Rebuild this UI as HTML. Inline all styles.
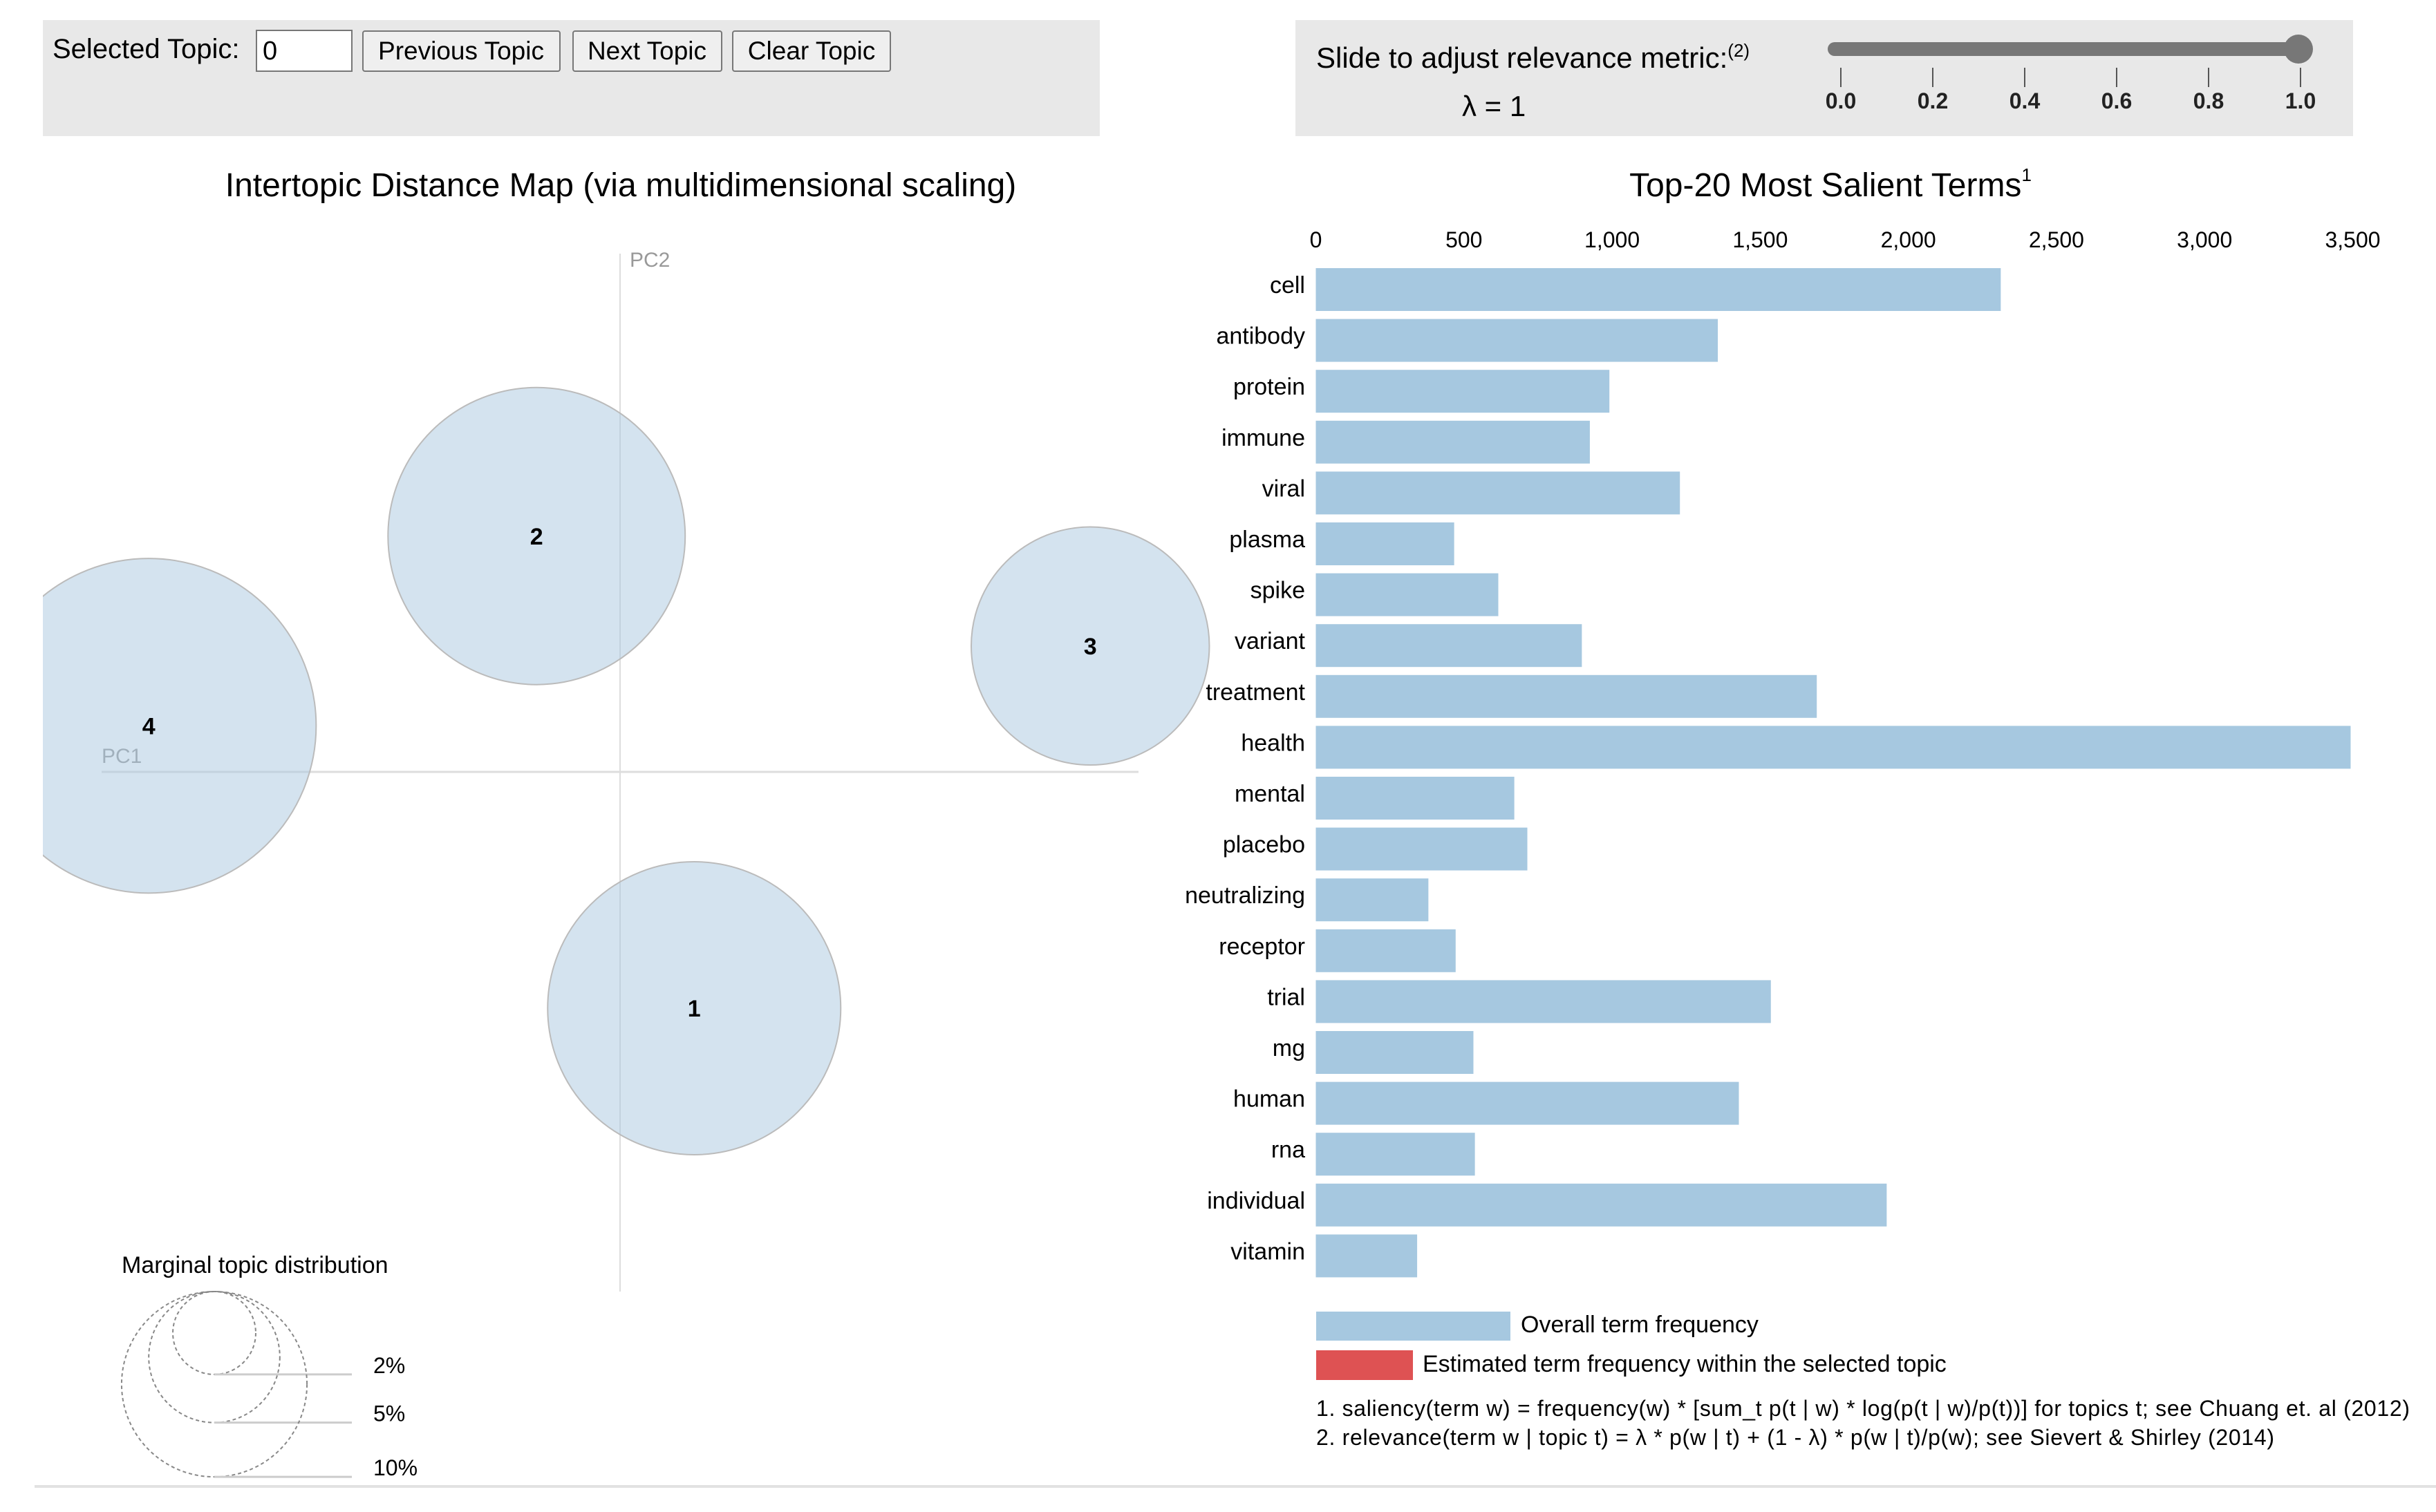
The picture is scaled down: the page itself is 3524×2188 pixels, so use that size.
<!DOCTYPE html>
<html><head><meta charset="utf-8"><style>
html,body{margin:0;padding:0;background:#fff;}
svg{display:block;font-family:"Liberation Sans",sans-serif;}
</style></head><body>
<svg id="root" width="3524" height="2188" viewBox="0 0 3524 2188" xmlns="http://www.w3.org/2000/svg">
<defs><clipPath id="mapclip"><rect x="62" y="330" width="1700" height="1800"/></clipPath></defs>
<g>
<rect x="62" y="29" width="1529" height="168" fill="#e8e8e8"/>
<text x="76" y="84" font-size="40" fill="#000">Selected Topic:</text>
<g><rect x="371" y="44" width="138" height="59" fill="#fff" stroke="#777" stroke-width="2"/><text x="380" y="86" font-size="38">0</text></g>
<g><rect x="525" y="45" width="285" height="58" fill="#efefef" stroke="#777" stroke-width="2" rx="3"/><text x="667" y="86" font-size="37" text-anchor="middle">Previous Topic</text></g>
<g><rect x="829" y="45" width="215" height="58" fill="#efefef" stroke="#777" stroke-width="2" rx="3"/><text x="936" y="86" font-size="37" text-anchor="middle">Next Topic</text></g>
<g><rect x="1060" y="45" width="228" height="58" fill="#efefef" stroke="#777" stroke-width="2" rx="3"/><text x="1174" y="86" font-size="37" text-anchor="middle">Clear Topic</text></g>
</g>
<g>
<rect x="1874" y="29" width="1530" height="168" fill="#e8e8e8"/>
<text x="1904" y="98" font-size="42">Slide to adjust relevance metric:<tspan font-size="26" dy="-16">(2)</tspan></text>
<text x="2115" y="168" font-size="42">λ = 1</text>
<g>
<rect x="2644" y="61" width="698" height="20" rx="10" fill="#777"/>
<circle cx="3325" cy="71" r="21" fill="#777"/>
</g>
<g id="sliderTicks"></g>
</g>
<text x="898" y="284" font-size="48" text-anchor="middle">Intertopic Distance Map (via multidimensional scaling)</text>
<g id="map">
<line x1="897" y1="367" x2="897" y2="1869" stroke="#ddd" stroke-width="2"/>
<line x1="147" y1="1117" x2="1647" y2="1117" stroke="#ddd" stroke-width="3"/>
<text x="911" y="386" font-size="30" fill="#999">PC2</text>
<text x="147" y="1104" font-size="30" fill="#999">PC1</text>
<g id="circles" clip-path="url(#mapclip)"></g>
</g>
<g id="marginal">
<text x="176" y="1842" font-size="34">Marginal topic distribution</text>
</g>
<line x1="50" y1="2151" x2="3524" y2="2151" stroke="#e2e2e2" stroke-width="4"/>
<text x="2648" y="284" font-size="48" text-anchor="middle">Top-20 Most Salient Terms<tspan font-size="26" dy="-22">1</tspan></text>
<g id="bars"></g>
<g>
<rect x="1904" y="1898" width="281" height="42" fill="#a6c8e0"/>
<text x="2200" y="1928" font-size="34">Overall term frequency</text>
<rect x="1904" y="1954" width="140" height="43" fill="#de5253"/>
<text x="2058" y="1985" font-size="34">Estimated term frequency within the selected topic</text>
<text x="1904" y="2049" font-size="32" textLength="1582">1. saliency(term w) = frequency(w) * [sum_t p(t | w) * log(p(t | w)/p(t))] for topics t; see Chuang et. al (2012)</text>
<text x="1904" y="2091" font-size="32" textLength="1386">2. relevance(term w | topic t) = λ * p(w | t) + (1 - λ) * p(w | t)/p(w); see Sievert &amp; Shirley (2014)</text>
</g>
</svg>
<script>
const terms=["cell","antibody","protein","immune","viral","plasma","spike","variant","treatment","health","mental","placebo","neutralizing","receptor","trial","mg","human","rna","individual","vitamin"];
const freqs=[2312,1357,991,925,1229,467,616,898,1691,3493,670,714,380,472,1536,532,1428,537,1927,342];
const xTicks=[0,500,1000,1500,2000,2500,3000,3500];
const xTickLabels=["0","500","1,000","1,500","2,000","2,500","3,000","3,500"];
const topicIds=[1,2,3,4];
const topicPC1=[0.143,-0.161,0.907,-0.909];
const topicPC2=[-0.456,0.455,0.243,0.089];
const topicShare=[0.25,0.257,0.165,0.326];
const legendShares=[0.02,0.05,0.10];
const legendLabels=["2%","5%","10%"];
const sliderTicks=[0,0.2,0.4,0.6,0.8,1.0];
const sliderLabels=["0.0","0.2","0.4","0.6","0.8","1.0"];

const NS="http://www.w3.org/2000/svg";
function mk(tag,attrs,parent){const e=document.createElementNS(NS,tag);for(const k in attrs)e.setAttribute(k,attrs[k]);parent.appendChild(e);return e;}
const xS=v=>1903.5+v*(1500/3500);
const rowY=i=>388+i*73.6;
const mapX=v=>897+v*750, mapY=v=>1117-v*750;
const rS=p=>Math.sqrt(p)*424;
const slX=v=>2663+v*665;

const bars=document.getElementById('bars');
xTicks.forEach((t,i)=>{
  const tx=mk('text',{x:xS(t),y:358,'font-size':32,'text-anchor':'middle'},bars);
  tx.textContent=xTickLabels[i];
  
  
});
terms.forEach((t,i)=>{
  const r=mk('rect',{x:xS(0),y:rowY(i),width:xS(freqs[i])-xS(0),height:62,fill:'#a6c8e0'},bars);
  
  
  const l=mk('text',{x:1888,y:rowY(i)+36,'font-size':34,'text-anchor':'end'},bars);
  l.textContent=t;
  
  
});

const circles=document.getElementById('circles');
topicIds.forEach((id,i)=>{
  const c=mk('circle',{cx:mapX(topicPC1[i]),cy:mapY(topicPC2[i]),r:rS(topicShare[i]),fill:'#a9c8e0','fill-opacity':0.5,stroke:'#bbb','stroke-width':2},circles);
  
  
});
topicIds.forEach((id,i)=>{
  const t=mk('text',{x:mapX(topicPC1[i]),y:mapY(topicPC2[i])+12,'font-size':34,'font-weight':'bold','text-anchor':'middle'},circles);
  t.textContent=id;
  
  
});

const marg=document.getElementById('marginal');
const cx=310;
legendShares.forEach((p,i)=>{
  const r=rS(p);
  const c=mk('circle',{cx:cx,cy:1869+r,r:r,fill:'none',stroke:'#888','stroke-width':2,'stroke-dasharray':'5,4'},marg);
  
  
  const ln=mk('line',{x1:cx,y1:1869+2*r,x2:509,y2:1869+2*r,stroke:'#ccc','stroke-width':3},marg);
  
  
  const t=mk('text',{x:540,y:1869+2*r-2,'font-size':32},marg);
  t.textContent=legendLabels[i];
  
  
});

const st=document.getElementById('sliderTicks');
sliderTicks.forEach((v,i)=>{
  const ln=mk('line',{x1:slX(v),y1:98,x2:slX(v),y2:126,stroke:'#555','stroke-width':2},st);
  
  
  const t=mk('text',{x:slX(v),y:157,'font-size':32,'font-weight':'bold','text-anchor':'middle',fill:'#222'},st);
  t.textContent=sliderLabels[i];
  
  
});
</script>
</body></html>
